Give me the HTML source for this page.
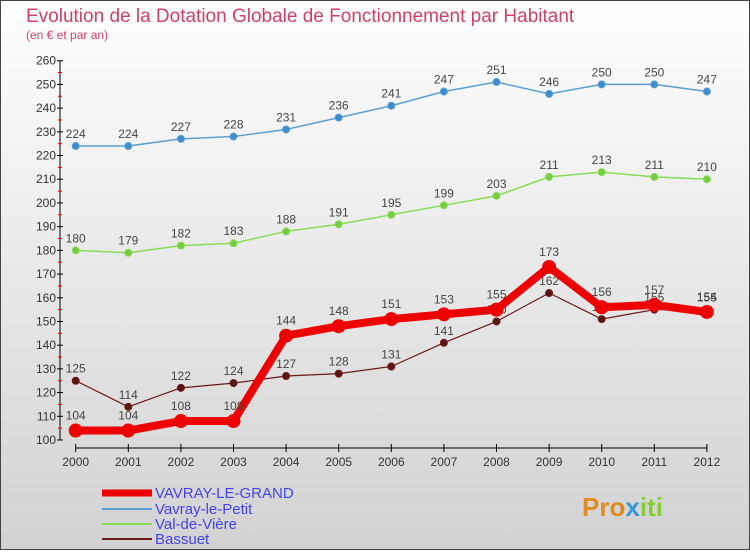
<!DOCTYPE html>
<html><head><meta charset="utf-8"><style>
body{margin:0;width:750px;height:550px;overflow:hidden;font-family:"Liberation Sans",sans-serif}
</style></head><body>
<svg width="750" height="550" xmlns="http://www.w3.org/2000/svg">
<defs><linearGradient id="bg" x1="0" y1="0" x2="0" y2="1"><stop offset="0" stop-color="#ffffff"/><stop offset="1" stop-color="#d2d2d2"/></linearGradient></defs>
<rect x="0.5" y="0.5" width="749" height="549" fill="url(#bg)" stroke="#444"/>
<text x="26" y="22" font-size="19" fill="#d0406a">Evolution de la Dotation Globale de Fonctionnement par Habitant</text>
<text x="26" y="39" font-size="12" fill="#d0406a">(en € et par an)</text>
<g id="axes"></g><g id="series"></g>
<g font-size="15">
<line x1="102" y1="493" x2="152" y2="493" stroke="#ee0000" stroke-width="7"/>
<text x="155" y="498" fill="#4444ee">VAVRAY-LE-GRAND</text>
<line x1="102" y1="509" x2="152" y2="509" stroke="#5a9fd4" stroke-width="2"/>
<text x="155" y="514" fill="#4444ee">Vavray-le-Petit</text>
<line x1="102" y1="524" x2="152" y2="524" stroke="#88dd55" stroke-width="2"/>
<text x="155" y="529" fill="#4444ee">Val-de-Vière</text>
<line x1="102" y1="539" x2="152" y2="539" stroke="#6b1a1a" stroke-width="2"/>
<text x="155" y="544" fill="#4444ee">Bassuet</text>
</g>
<text x="582" y="516" font-size="26" font-weight="bold" fill="#e08a20">Pro<tspan fill="#3399dd">x</tspan><tspan fill="#88cc33">iti</tspan></text>
</svg>
<script>
const years=["2000","2001","2002","2003","2004","2005","2006","2007","2008","2009","2010","2011","2012"];
const yTicks=[100,110,120,130,140,150,160,170,180,190,200,210,220,230,240,250,260];
const vavrayGrand=[104,104,108,108,144,148,151,153,155,173,156,157,154];
const vavrayPetit=[224,224,227,228,231,236,241,247,251,246,250,250,247];
const valDeViere=[180,179,182,183,188,191,195,199,203,211,213,211,210];
const bassuet=[125,114,122,124,127,128,131,141,150,162,151,155,155];
const NS="http://www.w3.org/2000/svg";
const xs=i=>75.7+i*52.6;
const ys=v=>440-(v-100)*(379.3/160);
function mk(t,a,p){const e=document.createElementNS(NS,t);for(const k in a)e.setAttribute(k,a[k]);p.appendChild(e);return e;}
const ax=document.getElementById('axes');
let l=mk('line',{x1:60,y1:ys(260),x2:60,y2:ys(100),stroke:'#000'},ax);


l=mk('line',{x1:xs(0),y1:448,x2:xs(12),y2:448,stroke:'#000'},ax);


yTicks.forEach((v,i)=>{
 mk('line',{x1:57,y1:ys(v),x2:63,y2:ys(v),stroke:'#000'},ax);
 if(i<yTicks.length-1)mk('line',{x1:58,y1:ys(v+5),x2:62,y2:ys(v+5),stroke:'#e00'},ax);
 const t=mk('text',{x:56,y:ys(v)+4,'font-size':12,'text-anchor':'end',fill:'#333'},ax);t.textContent=v;
 
 
});
years.forEach((y,i)=>{
 mk('line',{x1:xs(i),y1:444,x2:xs(i),y2:452,stroke:'#000'},ax);
 const t=mk('text',{x:xs(i),y:466,'font-size':12,'text-anchor':'middle',fill:'#333'},ax);t.textContent=y;
 
 
});
const sg=document.getElementById('series');
function draw(data,name,color,w,r,dotFill){
 const g=mk('g',{},sg);
 
 
 const pl=mk('polyline',{points:data.map((v,i)=>xs(i)+','+ys(v)).join(' '),fill:'none',stroke:color,'stroke-width':w,'stroke-linejoin':'round'},g);
 
 
 data.forEach((v,i)=>{
  const c=mk('circle',{cx:xs(i),cy:ys(v),r:r,fill:dotFill,stroke:color,'stroke-width':1},g);
  
  
  const t=mk('text',{x:xs(i),y:ys(v)-8-(r>5?3:0),'font-size':12,'text-anchor':'middle',fill:'#444'},g);t.textContent=v;
  
  
 });
}
draw(vavrayPetit,'vavray-le-petit','#5a9fd4',1.5,3.5,'#3d8ccc');
draw(valDeViere,'val-de-viere','#88dd55',1.5,3.5,'#77cc44');
draw(bassuet,'bassuet','#6b1a1a',1.2,3.5,'#5a1515');
draw(vavrayGrand,'vavray-le-grand','#ee0000',8,6.5,'#ee0000');
</script>
</body></html>
